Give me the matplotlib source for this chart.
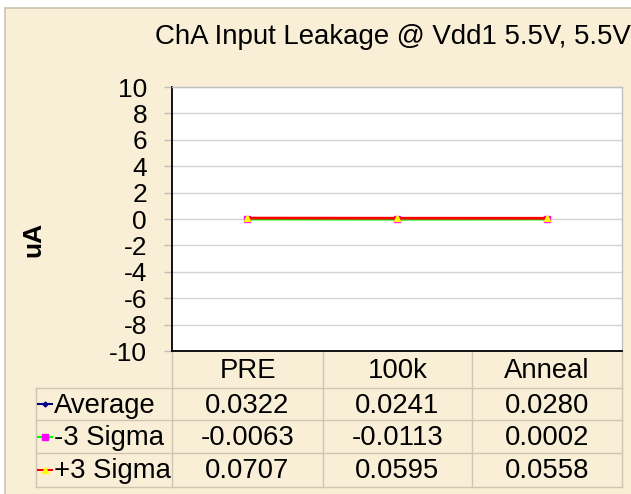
import matplotlib
matplotlib.use("Agg")
import matplotlib.pyplot as plt
from matplotlib.lines import Line2D
from matplotlib.patches import Rectangle

plt.rcParams['font.family'] = ['Liberation Sans', 'DejaVu Sans']

# ---- data ----
categories = ["PRE", "100k", "Anneal"]
series_names = ["Average", "-3 Sigma", "+3 Sigma"]
average = [0.0322, 0.0241, 0.0280]
minus_3_sigma = [-0.0063, -0.0113, 0.0002]
plus_3_sigma = [0.0707, 0.0595, 0.0558]
y_ticks = list(range(-10, 11, 2))

W, H = 631, 494
fig = plt.figure(figsize=(W / 100, H / 100), dpi=100)
fig.patch.set_facecolor("white")


def fx(px):
    return px / W


def fy(py):
    return 1 - py / H


BG = "#f9efd7"
GRID_LINE = "#cfc6b2"
TXT = 19.8

# chart area background with its thin border
bg = Rectangle((fx(5), fy(H + 5)), fx(W + 10) - fx(5), fy(8) - fy(H + 5),
               transform=fig.transFigure, facecolor=BG,
               edgecolor="#cdc4b0", linewidth=1.2, zorder=-10)
fig.patches.append(bg)

# plot area
L, R, T, B = 172, 622, 87, 351
ax = fig.add_axes([fx(L), fy(B), fx(R) - fx(L), fy(T) - fy(B)], zorder=2)
ax.set_facecolor("white")
ax.set_xlim(-0.5, len(categories) - 0.5)
ax.set_ylim(-10, 10)
ax.set_yticks(y_ticks)
ax.set_yticklabels([str(t) for t in y_ticks], fontsize=19)
ax.set_xticks([])
ax.tick_params(axis="y", direction="out", length=6, width=1, color="#bdbdbd", pad=12)
ax.grid(axis="y", color="#d4d4d4", linewidth=1)
ax.set_axisbelow(True)
for side in ("top", "right"):
    ax.spines[side].set_color("#c0c0c0")
    ax.spines[side].set_linewidth(1)
for side in ("left", "bottom"):
    ax.spines[side].set_color("black")
    ax.spines[side].set_linewidth(1.3)

xs = list(range(len(categories)))
styles = [
    dict(color="#000080", marker="D", markersize=3, mfc="#000080", mec="#000080"),
    dict(color="#00ff00", marker="s", markersize=5, mfc="#ff00ff", mec="#ff00ff"),
    dict(color="#ff0000", marker="^", markersize=5, mfc="#ffff00", mec="#ffff00"),
]
series_values = [average, minus_3_sigma, plus_3_sigma]
for vals, st in zip(series_values, styles):
    ax.plot(xs, vals, linewidth=2, clip_on=False, **st)

# title and axis label
fig.text(fx(155), fy(44), "ChA Input Leakage @ Vdd1 5.5V, 5.5V", fontsize=19.9,
         ha="left", va="baseline")
fig.text(fx(33), fy(239), "uA", fontsize=19, fontweight="bold", rotation=90,
         ha="center", va="center")

# data table under the plot
col_edges = [L, 323, 472, R]
row_edges = [388, 420, 453, 487]
tbl_left = 36


def hline(x0, x1, y):
    fig.add_artist(Line2D([fx(x0), fx(x1)], [fy(y), fy(y)], transform=fig.transFigure,
                          color=GRID_LINE, linewidth=1))


def vline(x, y0, y1):
    fig.add_artist(Line2D([fx(x), fx(x)], [fy(y0), fy(y1)], transform=fig.transFigure,
                          color=GRID_LINE, linewidth=1))


for y in row_edges:
    hline(tbl_left, R, y)
for x in col_edges:
    vline(x, B, row_edges[-1])
vline(tbl_left, row_edges[0], row_edges[-1])

# category header
for i, cat in enumerate(categories):
    cx = (col_edges[i] + col_edges[i + 1]) / 2
    fig.text(fx(cx), fy(378), cat, fontsize=TXT, ha="center", va="baseline")

# rows: legend key, series name, values
for r, (name, vals, st) in enumerate(zip(series_names, series_values, styles)):
    top = row_edges[r]
    base = top + 25
    mid = (top + row_edges[r + 1]) / 2
    fig.add_artist(Line2D([fx(38), fx(52)], [fy(mid), fy(mid)], transform=fig.transFigure,
                          color=st["color"], linewidth=1.5))
    fig.add_artist(Line2D([fx(45)], [fy(mid)], transform=fig.transFigure,
                          marker=st["marker"], markersize=st["markersize"] - 0.5,
                          mfc=st["mfc"], mec=st["mec"], linestyle="none"))
    fig.text(fx(54), fy(base), name, fontsize=TXT, ha="left", va="baseline")
    for i, v in enumerate(vals):
        cx = (col_edges[i] + col_edges[i + 1]) / 2
        fig.text(fx(cx), fy(base), f"{v:.4f}", fontsize=TXT, ha="center", va="baseline")

fig.savefig("out.png", dpi=100, facecolor=fig.get_facecolor())
